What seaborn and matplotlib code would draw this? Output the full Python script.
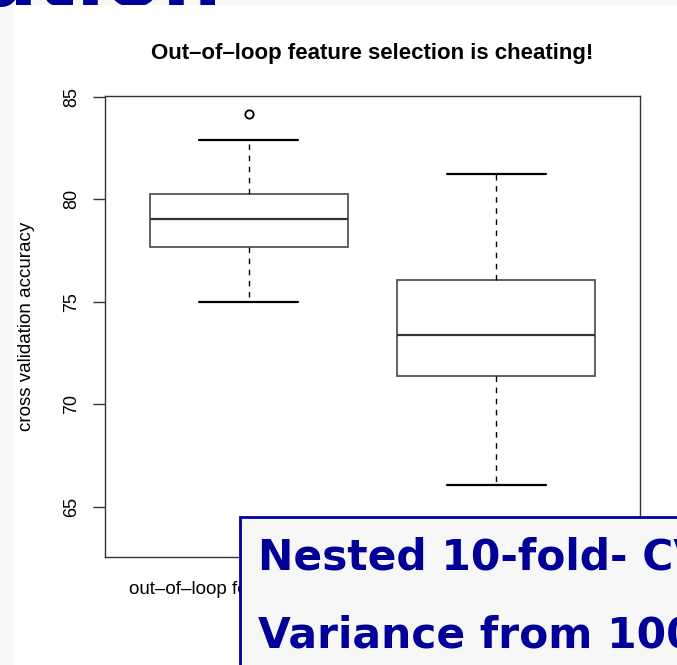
import pandas as pd
import seaborn as sns
import matplotlib.pyplot as plt
from matplotlib.patches import Rectangle

# values (whisker ends, quartiles, median, outlier)
GROUPS = ["out\u2013of\u2013loop feature selection", "in\u2013loop feature selection"]
OUT_OF_LOOP = [75.0, 77.64, 77.64, 79.01, 79.01, 80.23, 80.23, 82.89, 84.17]
IN_LOOP = [66.06, 71.35, 73.39, 76.07, 81.22]

TITLE = "Out\u2013of\u2013loop feature selection is cheating!"
YLABEL = "cross validation accuracy"
YTICKS = [65, 70, 75, 80, 85]

DF = pd.DataFrame({
    "group": [GROUPS[0]] * len(OUT_OF_LOOP) + [GROUPS[1]] * len(IN_LOOP),
    "accuracy": OUT_OF_LOOP + IN_LOOP,
})

sns.set_style("white")
plt.rcParams["font.family"] = ["Liberation Sans", "DejaVu Sans"]
plt.rcParams["text.color"] = "black"
plt.rcParams["axes.labelcolor"] = "black"
plt.rcParams["xtick.color"] = "black"
plt.rcParams["ytick.color"] = "black"

W, H = 677, 665
fig = plt.figure(figsize=(W / 100, H / 100), dpi=100, facecolor="#f7f7f7")

# slide title peeking out above the plot image (drawn first, then covered)
fig.text(-20 / W, 1 - 6 / H, "ation", color="#000099", fontsize=60, fontweight="bold",
         family="DejaVu Sans", va="baseline", ha="left", zorder=-2)

# white area of the embedded R plot
fig.add_artist(Rectangle((13 / W, 0), 1, 1 - 5 / H, transform=fig.transFigure,
                         facecolor="white", edgecolor="none", zorder=-1))

ax = fig.add_axes([105 / W, 1 - 557 / H, 535 / W, 461 / H])
ax.set_facecolor("white")

sns.boxplot(
    data=DF, x="group", y="accuracy", ax=ax,
    color="white", linecolor="#555555", linewidth=1.3, width=0.8, whis=1.5,
    whiskerprops=dict(linestyle=(0, (4, 4)), color="black", linewidth=1.0),
    capprops=dict(color="black", linewidth=1.6),
    medianprops=dict(color="#333333", linewidth=1.6),
    flierprops=dict(marker="o", markerfacecolor="none", markeredgecolor="black",
                    markersize=6, markeredgewidth=1.3),
)

ax.set_xlim(-0.58, 1.58)
ax.set_ylim(62.54, 85.03)
ax.set_yticks(YTICKS)
ax.set_yticklabels([str(t) for t in YTICKS], rotation=90, va="center", fontsize=13)
ax.tick_params(axis="y", left=True, length=8.5, width=1, color="#333333", pad=9.5)
ax.tick_params(axis="x", length=0, pad=17, labelsize=13.5)
for s in ax.spines.values():
    s.set_visible(True)
    s.set_color("#333333")
    s.set_linewidth(1.0)

ax.set_xlabel("")
ax.set_ylabel(YLABEL, fontsize=13.5)
ax.yaxis.set_label_coords(-0.131, 0.5)
ax.set_title(TITLE, fontsize=16, fontweight="bold", pad=27)

# overlay box from the slide
fig.add_artist(Rectangle((240 / W, -0.02), 0.7, (665 - 517) / H + 0.02,
                         transform=fig.transFigure, facecolor="#f7f7f7",
                         edgecolor="#000099", linewidth=2, zorder=5))
fig.text(258 / W, 1 - 570 / H, "Nested 10-fold- CV", color="#000099", fontsize=30.5,
         fontweight="bold", family="DejaVu Sans", va="baseline", zorder=6)
fig.text(258 / W, 1 - 648 / H, "Variance from 100", color="#000099", fontsize=30.5,
         fontweight="bold", family="DejaVu Sans", va="baseline", zorder=6)

plt.savefig("out.png", dpi=100, facecolor=fig.get_facecolor())
